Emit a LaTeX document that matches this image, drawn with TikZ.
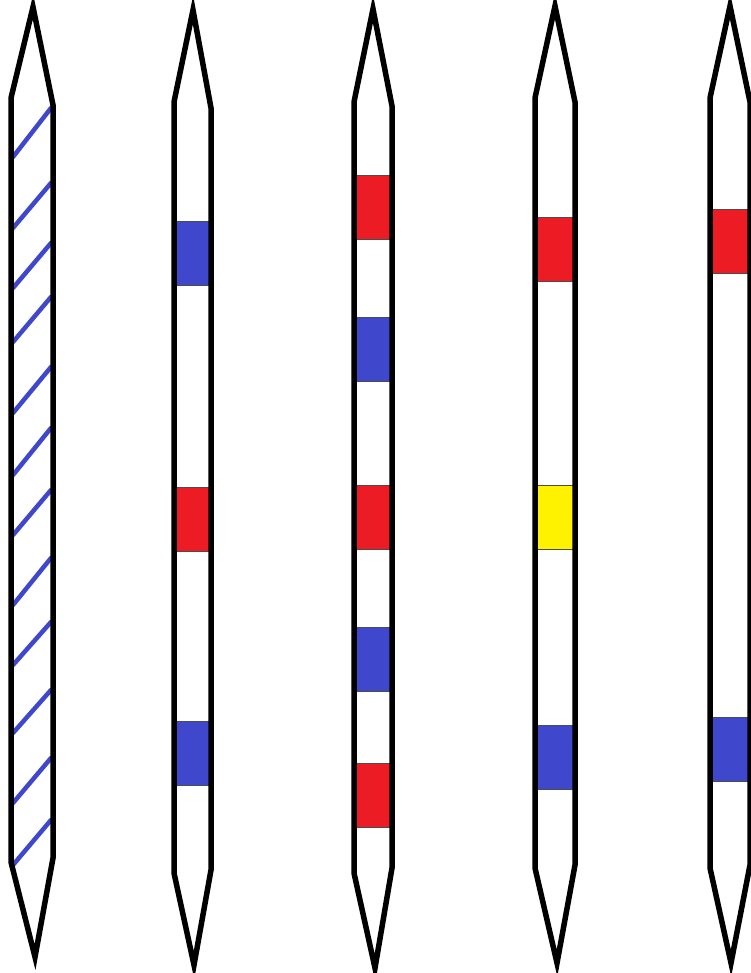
\documentclass[tikz,border=0pt]{standalone}
\usepackage{tikz}

\definecolor{paintblue}{RGB}{63,72,204}
\definecolor{paintred}{RGB}{237,28,36}
\definecolor{paintyellow}{RGB}{255,242,0}

\tikzset{
  outline/.style={draw=black, line width=5.5pt, line join=miter},
  band/.style={draw=black!70, line width=0.8pt},
  hatch/.style={draw=paintblue, line width=4.5pt, line cap=round}
}

\begin{document}
\begin{tikzpicture}[x=1pt,y=-1pt]
  \useasboundingbox (0,0) rectangle (750,973);

  % hatching on the first pencil
  \foreach \a/\b in {157/108,228/183,288/243,342/297,413/367,475/428,
                     535/490,605/558,665/622,733/690,803/758,865/820}
    \draw[hatch] (13,\a) -- (51,\b);

  % colour bands
  % second pencil
  \filldraw[band, fill=paintblue]   (176,221) rectangle (209,285);
  \filldraw[band, fill=paintred]    (176,487) rectangle (209,551);
  \filldraw[band, fill=paintblue]   (176,721) rectangle (209,785);
  % third pencil
  \filldraw[band, fill=paintred]    (356,175) rectangle (390,239);
  \filldraw[band, fill=paintblue]   (356,317) rectangle (390,381);
  \filldraw[band, fill=paintred]    (356,485) rectangle (390,549);
  \filldraw[band, fill=paintblue]   (356,627) rectangle (390,691);
  \filldraw[band, fill=paintred]    (356,763) rectangle (390,827);
  % fourth pencil
  \filldraw[band, fill=paintred]    (537,217) rectangle (573,281);
  \filldraw[band, fill=paintyellow] (537,485) rectangle (573,549);
  \filldraw[band, fill=paintblue]   (537,725) rectangle (573,789);
  % fifth pencil
  \filldraw[band, fill=paintred]    (712,209) rectangle (748,273);
  \filldraw[band, fill=paintblue]   (712,717) rectangle (748,781);

  % pencil outlines: left, right, top tip, bottom tip, shoulders
  \foreach \l/\r/\tx/\ty/\bx/\by/\sa/\sb/\sc/\sd in {
      11/53/33/7/35/957/98/105/862/858,
      174/211/193/10/194/965/102/108/873/870,
      354/392/373/9/375/968/102/106/873/868,
      535/575/555/6/557/963/98/102/868/865,
      710/750/730/6/731/963/98/102/868/865}
    \draw[outline] (\tx,\ty) -- (\l,\sa) -- (\l,\sc) -- (\bx,\by)
      -- (\r,\sd) -- (\r,\sb) -- cycle;
\end{tikzpicture}
\end{document}
